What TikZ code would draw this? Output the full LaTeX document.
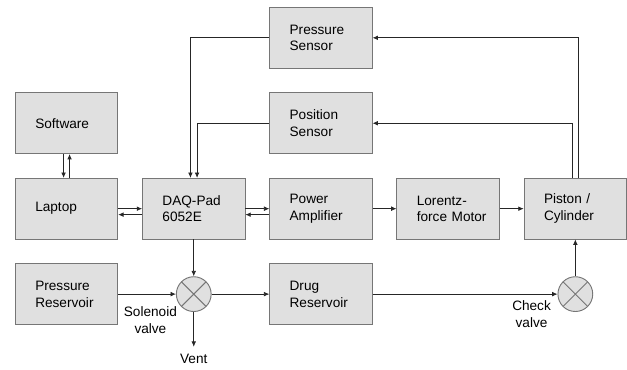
\documentclass[tikz,border=0pt]{standalone}
\usepackage{fontspec}
\setmainfont{Liberation Sans}
\usetikzlibrary{arrows.meta,positioning}
\definecolor{blockgray}{RGB}{224,224,224}
\definecolor{edgegray}{RGB}{118,118,118}

\begin{document}
\begin{tikzpicture}[
  node distance=0.72cm and 0.72cm,
  block/.style={draw=edgegray, line width=0.8pt, fill=blockgray, minimum height=1.83cm, minimum width=3.09cm, text width=1.89cm, inner xsep=0.6cm, align=left, font=\fontsize{11.7}{14.2}\selectfont},
  valve/.style={circle, draw=edgegray, line width=0.8pt, fill=blockgray, minimum size=1.05cm, inner sep=0pt, path picture={\draw[edgegray, line width=0.8pt] (path picture bounding box.north west) -- (path picture bounding box.south east) (path picture bounding box.north east) -- (path picture bounding box.south west);}},
  lbl/.style={font=\fontsize{11.7}{14.2}\selectfont, align=center, inner sep=0pt},
  arr/.style={-{Latex[length=1.6mm,width=1.4mm]}, line width=0.6pt, color=black!85},
]
\node[block] (soft) {Software};
\node[block, below=of soft] (laptop) {Laptop};
\node[block, right=of laptop] (daq) {DAQ-Pad\\6052E};
\node[block, right=of daq] (amp) {Power\\Amplifier};
\node[block, right=of amp] (motor) {Lorentz-\\\mbox{force Motor}};
\node[block, right=of motor] (piston) {Piston /\\Cylinder};
\node[block, above=of amp] (possens) {Position\\Sensor};
\node[block, above=of possens] (pressens) {Pressure\\Sensor};
\node[block, below=of laptop] (presres) {Pressure\\Reservoir};
\node[block, below=of amp] (drugres) {Drug\\Reservoir};
\node[valve] (solvalve) at (daq |- presres) {};
\node[valve] (chkvalve) at (piston |- drugres) {};
\node[lbl, below=1.05cm of solvalve, inner ysep=0.2cm] (vent) {Vent};
\node[lbl, below left=0cm and 0.12cm of solvalve] (sollbl) {Solenoid\\valve};
\node[lbl, below left=-0.18cm and 0.35cm of chkvalve] (chklbl) {Check\\valve};

\draw[arr] ([xshift=-0.09cm]soft.south) -- ([xshift=-0.09cm]laptop.north);
\draw[arr] ([xshift=0.09cm]laptop.north) -- ([xshift=0.09cm]soft.south);
\draw[arr] (laptop.east) -- (daq.west);
\draw[arr] ([yshift=-0.18cm]daq.west) -- ([yshift=-0.18cm]laptop.east);
\draw[arr] (daq.east) -- (amp.west);
\draw[arr] ([yshift=-0.18cm]amp.west) -- ([yshift=-0.18cm]daq.east);
\draw[arr] (amp) -- (motor);
\draw[arr] (motor) -- (piston);
\draw[arr] (pressens.west) -| ([xshift=-0.1cm]daq.north);
\draw[arr] (possens.west) -| ([xshift=0.1cm]daq.north);
\draw[arr] ([xshift=0.08cm]piston.north) |- (pressens.east);
\draw[arr] ([xshift=-0.08cm]piston.north) |- (possens.east);
\draw[arr] (daq) -- (solvalve);
\draw[arr] (presres) -- (solvalve);
\draw[arr] (solvalve) -- (drugres);
\draw[arr] (solvalve) -- (vent);
\draw[arr] (drugres) -- (chkvalve);
\draw[arr] (chkvalve) -- (piston);

\useasboundingbox ([shift={(-0.45,2.79)}]soft.north west) rectangle ([shift={(18.36,-8.19)}]soft.north west);
\end{tikzpicture}
\end{document}
